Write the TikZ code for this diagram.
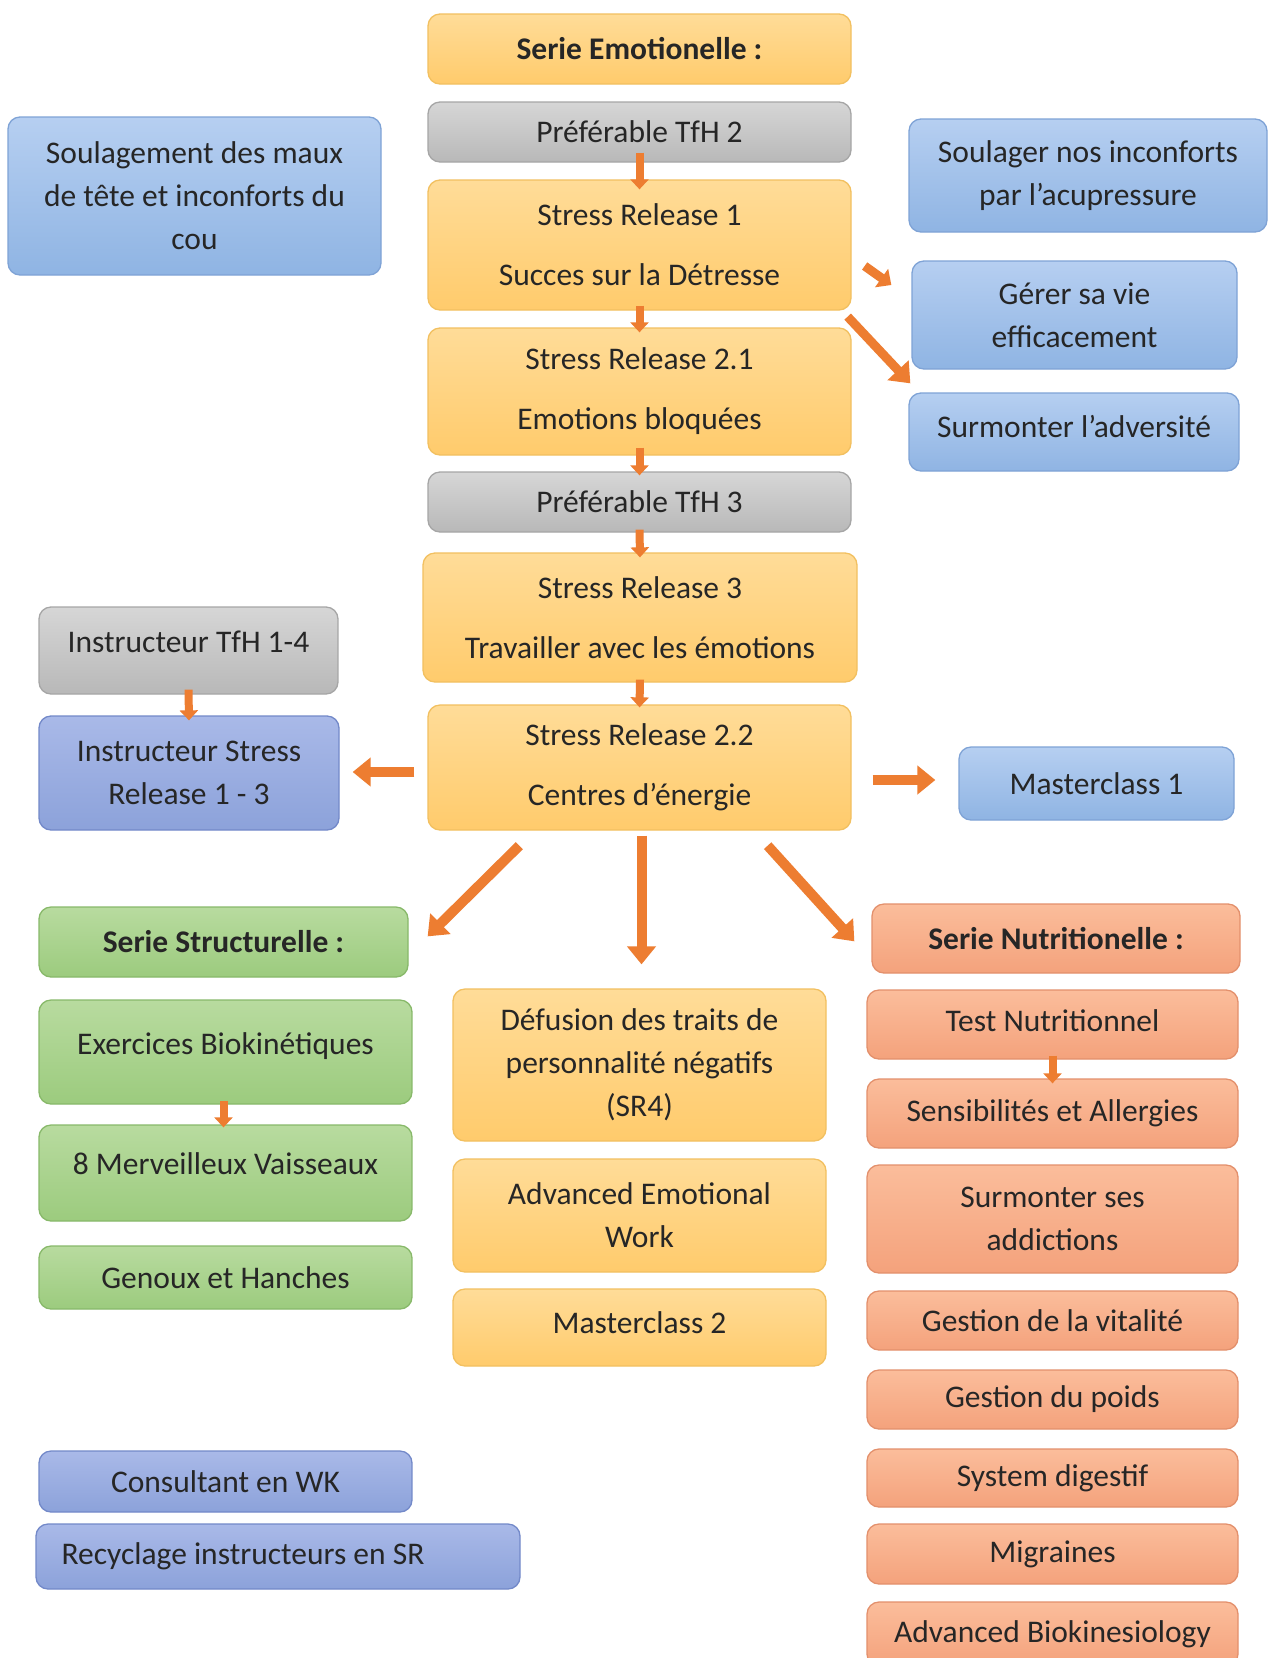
\documentclass[tikz,border=0pt]{standalone}
\usepackage{fontspec}
\setmainfont{Carlito}
\usetikzlibrary{arrows.meta}
\newcommand\rz[2]{\raisebox{#1}[\height][\depth]{#2}}
\definecolor{txt}{HTML}{262626}
\definecolor{arr}{HTML}{ED7D31}
\definecolor{yelT}{HTML}{FFDC98}
\definecolor{yelB}{HTML}{FFCB6C}
\definecolor{yelD}{HTML}{F2C060}
\definecolor{gryT}{HTML}{D6D6D6}
\definecolor{gryB}{HTML}{B8B8B8}
\definecolor{gryD}{HTML}{A6A6A6}
\definecolor{bluT}{HTML}{B6CFF1}
\definecolor{bluB}{HTML}{8FB4E3}
\definecolor{bluD}{HTML}{7FA3D6}
\definecolor{purT}{HTML}{A9B9E8}
\definecolor{purB}{HTML}{8CA2DA}
\definecolor{purD}{HTML}{7389C9}
\definecolor{grnT}{HTML}{B8DB9F}
\definecolor{grnB}{HTML}{9CCB7E}
\definecolor{grnD}{HTML}{88B96A}
\definecolor{salT}{HTML}{FBBD9B}
\definecolor{salB}{HTML}{F4A27C}
\definecolor{salD}{HTML}{E3906C}
\begin{document}
\begin{tikzpicture}[x=1pt,y=-1pt,
  box/.style={rounded corners=12pt, line width=1.3pt, align=center, inner sep=0pt,
    font=\fontsize{31.5}{43}\selectfont, text=txt},
  yel/.style={box, top color=yelT, bottom color=yelB, draw=yelD},
  gry/.style={box, top color=gryT, bottom color=gryB, draw=gryD},
  blu/.style={box, top color=bluT, bottom color=bluB, draw=bluD},
  pur/.style={box, top color=purT, bottom color=purB, draw=purD},
  grn/.style={box, top color=grnT, bottom color=grnB, draw=grnD},
  sal/.style={box, top color=salT, bottom color=salB, draw=salD},
  sz/.style 2 args={minimum width=#1pt, minimum height=#2pt},
  bigarrow/.style={draw=arr, line width=10pt, -{Triangle[width=28pt,length=18pt]}},
  smallarrow/.style={draw=arr, line width=8pt, -{Triangle[width=18pt,length=10pt]}}
]
\clip (0,0) rectangle (1269,1658);
\fill[white] (0,0) rectangle (1269,1658);

% central column
\node[yel, sz={423}{70}] (emo) at (639.5,49) {\textbf{Serie Emotionelle :}};
\node[gry, sz={423}{60}] (tfh2) at (639.5,132) {Préférable TfH 2};
\node[yel, sz={423}{130}] (sr1) at (639.5,245) {Stress Release 1\\[17pt]Succes sur la Détresse};
\node[yel, sz={423}{127}] (sr21) at (639.5,391.5) {Stress Release 2.1\\[17pt]Emotions bloquées};
\node[gry, sz={423}{60}] (tfh3) at (639.5,502) {Préférable TfH 3};
\node[yel, sz={434}{129}] (sr3) at (640,617.5) {Stress Release 3\\[17pt]Travailler avec les émotions};
\node[yel, sz={423}{125}] (sr22) at (639.5,767.5) {Stress Release 2.2\\[17pt]Centres d’énergie};

% left upper
\node[blu, sz={373}{158}] (soul) at (194.5,196) {Soulagement des maux\\de tête et inconforts du\\cou};
\node[gry, sz={299}{87}] (itfh) at (188.5,650.5) {\rz{9pt}{Instructeur TfH 1-4}};
\node[pur, sz={300}{114}] (isr) at (189,773) {Instructeur Stress\\Release 1 - 3};

% right upper
\node[blu, sz={358}{113}] (acu) at (1088,175.5) {Soulager nos inconforts\\par l’acupressure};
\node[blu, sz={325}{108}] (gerer) at (1074.5,315) {Gérer sa vie\\efficacement};
\node[blu, sz={330}{78}] (adv) at (1074,432) {\rz{5pt}{Surmonter l’adversité}};
\node[blu, sz={275}{73}] (mc1) at (1096.5,783.5) {Masterclass 1};

% structural series
\node[grn, sz={369}{70}] (struct) at (223.5,942) {\textbf{Serie Structurelle :}};
\node[grn, sz={373}{104}] (exo) at (225.5,1052) {\rz{6pt}{Exercices Biokinétiques}};
\node[grn, sz={373}{96}] (merv) at (225.5,1173) {\rz{9pt}{8 Merveilleux Vaisseaux}};
\node[grn, sz={373}{63}] (genoux) at (225.5,1277.5) {Genoux et Hanches};

% middle lower
\node[yel, sz={373}{152}] (defu) at (639.5,1065) {Défusion des traits de\\personnalité négatifs\\(SR4)};
\node[yel, sz={373}{113}] (aew) at (639.5,1215.5) {Advanced Emotional\\Work};
\node[yel, sz={373}{77}] (mc2) at (639.5,1327.5) {\rz{5pt}{Masterclass 2}};

% nutrition series
\node[sal, sz={368}{69}] (nutri) at (1056,938.5) {\textbf{Serie Nutritionelle :}};
\node[sal, sz={371}{69}] (test) at (1052.5,1024.5) {\rz{4pt}{Test Nutritionnel}};
\node[sal, sz={371}{69}] (sens) at (1052.5,1113.5) {Sensibilités et Allergies};
\node[sal, sz={371}{108}] (addi) at (1052.5,1219) {Surmonter ses\\addictions};
\node[sal, sz={371}{59}] (vita) at (1052.5,1320.5) {Gestion de la vitalité};
\node[sal, sz={371}{59}] (poids) at (1052.5,1399.5) {Gestion du poids};
\node[sal, sz={371}{58}] (dig) at (1052.5,1478) {System digestif};
\node[sal, sz={371}{60}] (migr) at (1052.5,1554) {Migraines};
\node[sal, sz={371}{64}] (abk) at (1052.5,1634) {Advanced Biokinesiology};

% bottom left
\node[pur, sz={484}{65}] (recy) at (278,1556.5) {Recyclage instructeurs en SR\hspace{70pt}};
\node[pur, sz={373}{61}] (cwk) at (225.5,1481.5) {Consultant en WK};

% small arrows
\draw[smallarrow] ([yshift=10pt]tfh2.south) -- ([yshift=-10pt]sr1.north);
\draw[smallarrow] ([yshift=5pt]sr1.south) -- ([yshift=-5pt]sr21.north);
\draw[smallarrow] ([yshift=8pt]sr21.south) -- ([yshift=-4pt]tfh3.north);
\draw[smallarrow] ([yshift=3pt]tfh3.south) -- ([yshift=-5pt]sr3.north);
\draw[smallarrow] ([yshift=3pt]sr3.south) -- ([yshift=-3pt]sr22.north);
\draw[smallarrow] ([yshift=5pt]itfh.south) -- ([yshift=-5pt]isr.north);
\draw[smallarrow] ([xshift=-2pt,yshift=4pt]exo.south) -- ([xshift=-2pt,yshift=-3pt]merv.north);
\draw[smallarrow] ([yshift=4pt]test.south) -- ([yshift=-5pt]sens.north);

% big arrows
\draw[smallarrow, line width=9pt, -{Triangle[width=22pt,length=12pt]}] ([xshift=13pt,yshift=-21pt]sr1.east) -- ([xshift=-20pt,yshift=30pt]gerer.west);
\draw[bigarrow, line width=9pt] ([xshift=-4pt,yshift=-6pt]sr1.south east) -- ([xshift=2pt,yshift=9pt]adv.north west);
\draw[bigarrow] ([xshift=-13pt,yshift=-4.5pt]sr22.west) -- ([xshift=13pt,yshift=1pt]isr.east);
\draw[bigarrow] ([xshift=21pt,yshift=-12.5pt]sr22.east) -- ([xshift=-23pt,yshift=3.5pt]mc1.west);
\draw[bigarrow] ([xshift=92pt,yshift=-15pt]sr22.south west) -- ([xshift=19pt,yshift=-30pt]struct.north east);
\draw[bigarrow] ([xshift=2pt,yshift=-5pt]sr22.south) -- ([xshift=2pt,yshift=24pt]defu.north);
\draw[bigarrow] ([xshift=-84pt,yshift=-15pt]sr22.south east) -- ([xshift=-17pt,yshift=-38pt]nutri.north west);
\end{tikzpicture}
\end{document}
